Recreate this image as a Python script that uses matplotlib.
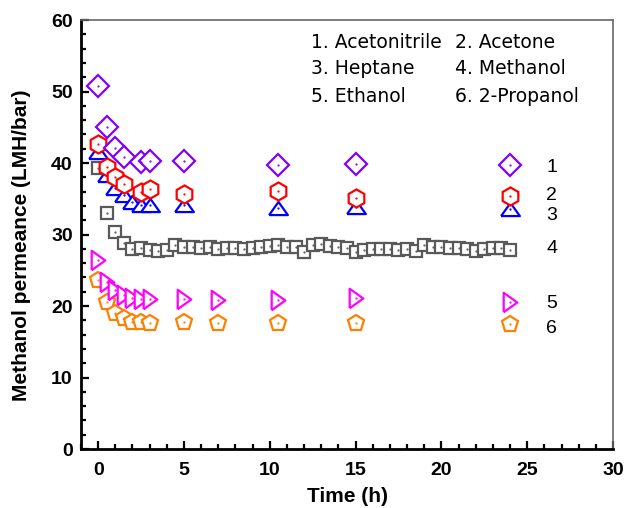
import matplotlib
matplotlib.use("Agg")
import matplotlib.pyplot as plt
from matplotlib.ticker import MultipleLocator

plt.rcParams["font.family"] = ["Liberation Sans", "DejaVu Sans"]

# solvent series (time in h, permeance in LMH/bar)
t_acetonitrile = [0, 0.5, 1, 1.5, 2.5, 3, 5, 10.5, 15, 24]
y_acetonitrile = [50.8, 45.0, 42.1, 40.8, 40.1, 40.3, 40.3, 39.7, 39.9, 39.7]

t_acetone = [0, 0.5, 1, 1.5, 2.5, 3, 5, 10.5, 15, 24]
y_acetone = [42.7, 39.4, 38.0, 37.1, 35.9, 36.4, 35.7, 36.1, 35.1, 35.4]

t_heptane = [0, 0.5, 1, 1.5, 2, 2.5, 3, 5, 10.5, 15, 24]
y_heptane = [41.5, 38.3, 36.5, 35.5, 34.5, 34.1, 34.1, 34.1, 33.7, 33.8, 33.6]

t_methanol = [i * 0.5 for i in range(49)]
y_methanol = [39.3, 33.0, 30.3, 28.8, 28.0, 28.1, 27.8, 27.7, 27.8, 28.5,
              28.3, 28.2, 28.1, 28.2, 28.0, 28.1, 28.1, 28.0, 28.1, 28.2,
              28.4, 28.5, 28.3, 28.2, 27.6, 28.6, 28.7, 28.4, 28.2, 28.1,
              27.6, 27.9, 28.0, 28.0, 28.0, 27.9, 28.0, 27.7, 28.5, 28.3,
              28.2, 28.1, 28.1, 28.0, 27.7, 28.0, 28.1, 28.1, 27.9]

t_ethanol = [0, 0.5, 1, 1.5, 2, 2.5, 3, 5, 7, 10.5, 15, 24]
y_ethanol = [26.4, 23.4, 22.2, 21.5, 21.1, 21.0, 21.0, 21.0, 20.8, 20.8, 21.1, 20.6]

t_propanol = [0, 0.5, 1, 1.5, 2, 2.5, 3, 5, 7, 10.5, 15, 24]
y_propanol = [23.6, 20.6, 19.0, 18.3, 17.8, 17.8, 17.6, 17.8, 17.6, 17.6, 17.6, 17.5]

legend_lines = [("1. Acetonitrile", "2. Acetone"),
                ("3. Heptane", "4. Methanol"),
                ("5. Ethanol", "6. 2-Propanol")]
end_labels = ["1", "2", "3", "4", "5", "6"]

fig = plt.figure(figsize=(6.27, 5.08), dpi=100)
ax = fig.add_axes([0.1292, 0.1161, 0.8485, 0.8445])

# wide triangles like the original plotting software
tri_up = [(-1, -0.7), (1, -0.7), (0, 0.7), (-1, -0.7)]
tri_right = [(-0.7, -1), (-0.7, 1), (0.7, 0), (-0.7, -1)]

series = [
    # (t, y, marker, color, size)
    (t_methanol, y_methanol, "s", "#595959", 8),
    (t_propanol, y_propanol, "p", "#ff8000", 12),
    (t_ethanol, y_ethanol, tri_right, "#ff00ff", 14),
    (t_heptane, y_heptane, tri_up, "#0000ff", 13.5),
    (t_acetone, y_acetone, "h", "#ff0000", 13),
    (t_acetonitrile, y_acetonitrile, "D", "#8000ff", 11),
]
for t, y, m, c, s in series:
    ax.plot(t, y, linestyle="none", marker=m, markersize=s,
            markerfacecolor="white", markeredgecolor=c, markeredgewidth=1.6)
    # small centre dot like the original software
    ax.plot(t, y, linestyle="none", marker=".", markersize=1.2, color=c)

ax.set_xlim(-1, 30)
ax.set_ylim(0, 60)
ax.xaxis.set_major_locator(MultipleLocator(5))
ax.xaxis.set_minor_locator(MultipleLocator(1))
ax.yaxis.set_major_locator(MultipleLocator(10))
ax.yaxis.set_minor_locator(MultipleLocator(2))
ax.set_xticks(range(0, 31, 5))
ax.tick_params(which="both", direction="in", top=False, right=False,
               width=1.6, color="black")
ax.tick_params(which="major", length=6, labelsize=14)
ax.tick_params(axis="x", which="major", pad=9)
ax.tick_params(axis="y", which="major", pad=6)
ax.tick_params(which="minor", length=3.5)
for lab in ax.get_xticklabels() + ax.get_yticklabels():
    lab.set_fontweight("bold")

for side in ["left", "bottom"]:
    ax.spines[side].set_linewidth(2.0)
    ax.spines[side].set_color("black")
for side in ["top", "right"]:
    ax.spines[side].set_linewidth(1.2)
    ax.spines[side].set_color("#666666")

ax.set_xlabel("Time (h)", fontsize=15, fontweight="bold", labelpad=6)
ax.set_ylabel("Methanol permeance (LMH/bar)", fontsize=15, fontweight="bold")
ax.yaxis.set_label_coords(-0.094, 0.475)

leg_y = [56.8, 53.2, 49.3]
for (left, right), yy in zip(legend_lines, leg_y):
    ax.text(12.4, yy, left, fontsize=13.5, ha="left", va="center",
            family="DejaVu Sans")
    ax.text(20.8, yy, right, fontsize=13.5, ha="left", va="center",
            family="DejaVu Sans")

end_y = [39.4, 35.5, 32.6, 28.1, 20.4, 16.9]
for lab, yy in zip(end_labels, end_y):
    ax.text(26.1, yy, lab, fontsize=14, ha="left", va="center")

fig.savefig("out.png", dpi=100)
